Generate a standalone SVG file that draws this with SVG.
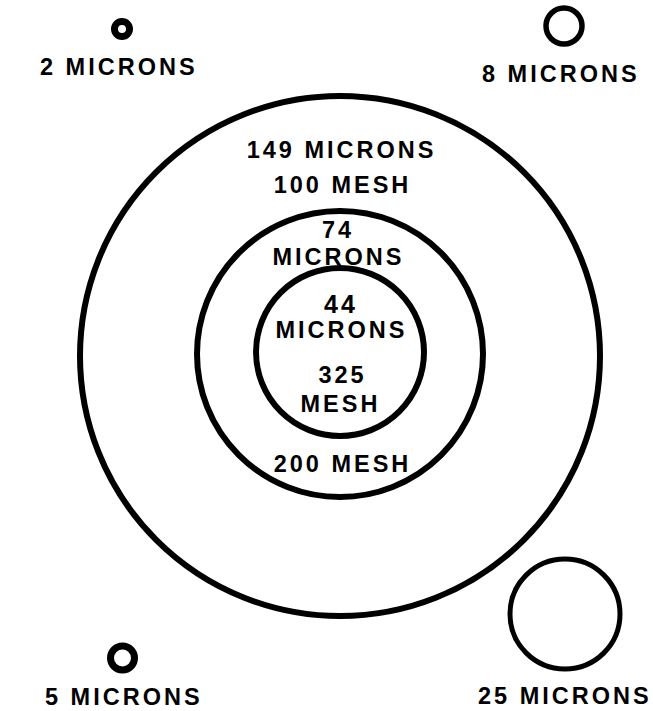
<svg xmlns="http://www.w3.org/2000/svg" width="653" height="711" viewBox="0 0 653 711">
<style>
.ring{fill:none;stroke:#000;stroke-width:6}
.t{font-family:"Liberation Sans",Arial,sans-serif;font-weight:bold;font-size:23.5px;letter-spacing:3px;fill:#000}
.c{text-anchor:middle}
</style>
<rect width="653" height="711" fill="#fff"/>
<g id="ring149"><circle class="ring" cx="340" cy="356" r="260"/></g>
<g id="ring74"><circle class="ring" cx="340" cy="354" r="143"/></g>
<g id="ring44"><circle class="ring" cx="340" cy="352" r="84"/></g>
<g id="labels-center">
<text class="t c" x="341.5" y="158">149 MICRONS</text>
<text class="t c" x="342.5" y="193">100 MESH</text>
<text class="t c" x="338" y="238">74</text>
<text class="t c" x="338.5" y="265">MICRONS</text>
<text class="t c" x="341" y="313" style="font-size:25px">44</text>
<text class="t c" x="341.5" y="338">MICRONS</text>
<text class="t c" x="342.5" y="383">325</text>
<text class="t c" x="340.5" y="412">MESH</text>
<text class="t c" x="342.5" y="472">200 MESH</text>
</g>
<g id="p2"><circle cx="122" cy="29" r="7.5" fill="none" stroke="#000" stroke-width="7"/><text class="t" x="40" y="75">2 MICRONS</text></g>
<g id="p8"><circle cx="564" cy="26" r="18" fill="none" stroke="#000" stroke-width="5.5"/><text class="t" x="482" y="82">8 MICRONS</text></g>
<g id="p5"><circle cx="122.5" cy="658" r="12" fill="none" stroke="#000" stroke-width="7"/><text class="t" x="45" y="705">5 MICRONS</text></g>
<g id="p25"><circle cx="565" cy="614" r="55" fill="none" stroke="#000" stroke-width="5"/><text class="t" x="478" y="704">25 MICRONS</text></g>
<g id="connectors"></g>
</svg>
